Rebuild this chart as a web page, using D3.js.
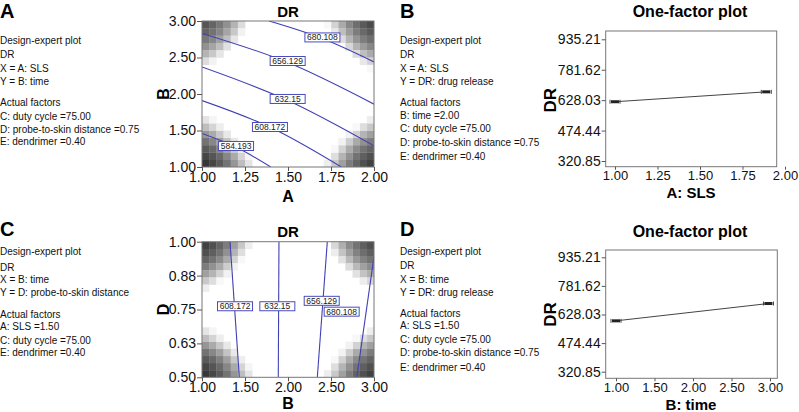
<!DOCTYPE html>
<html><head><meta charset="utf-8">
<script src="https://cdn.jsdelivr.net/npm/d3@7"></script>
<style>body{margin:0;background:#fff}svg{display:block}text{font-family:"Liberation Sans",Arial,Helvetica,sans-serif}</style>
</head><body>
<svg id="c" width="799" height="412"></svg>
<script>
// ---------------- DATA ----------------
const panelLetters = ["A", "B", "C", "D"];
const infoA = ["Design-expert plot", "DR", "X = A: SLS", "Y = B: time", "Actual factors", "C: duty cycle =75.00", "D: probe-to-skin distance =0.75", "E: dendrimer =0.40"];
const infoB = ["Design-expert plot", "DR", "X = A: SLS", "Y = DR: drug release", "Actual factors", "B: time =2.00", "C: duty cycle =75.00", "D: probe-to-skin distance =0.75", "E: dendrimer =0.40"];
const infoC = ["Design-expert plot", "DR", "X = B: time", "Y = D: probe-to-skin distance", "Actual factors", "A: SLS =1.50", "C: duty cycle =75.00", "E: dendrimer =0.40"];
const infoD = ["Design-expert plot", "DR", "X = B: time", "Y = DR: drug release", "Actual factors", "A: SLS =1.50", "C: duty cycle =75.00", "D: probe-to-skin distance =0.75", "E: dendrimer =0.40"];

// Contour plot A (x = A: SLS, y = B: time)
const contourLevelsA = ["584.193", "608.172", "632.15", "656.129", "680.108"];
const contourLinesA = [
  [[1.00, 1.46], [1.20, 1.27], [1.40, 1.00]],
  [[1.00, 1.91], [1.40, 1.54], [1.81, 1.00]],
  [[1.00, 2.37], [1.50, 1.91], [2.00, 1.29]],
  [[1.00, 2.83], [1.50, 2.43], [2.00, 1.86]],
  [[1.39, 3.00], [1.70, 2.76], [2.00, 2.44]]
];
const contourLabelPosA = [[1.198, 1.288], [1.395, 1.548], [1.498, 1.932], [1.498, 2.452], [1.700, 2.775]];
const ticksAx = [1.00, 1.25, 1.50, 1.75, 2.00];
const ticksAy = [1.00, 1.50, 2.00, 2.50, 3.00];

// Contour plot C (x = B: time, y = D: probe-to-skin distance)
const contourLevelsC = ["608.172", "632.15", "656.129", "680.108"];
const contourLinesC = [
  [[1.326, 1.00], [1.434, 0.50]],
  [[1.895, 1.00], [1.887, 0.50]],
  [[2.457, 1.00], [2.341, 0.50]],
  [[3.000, 0.945], [2.800, 0.50]]
];
const contourLabelPosC = [[1.384, 0.762], [1.876, 0.762], [2.392, 0.782], [2.624, 0.742]];
const ticksCx = [1.00, 1.50, 2.00, 2.50, 3.00];
const ticksCy = [0.50, 0.625, 0.75, 0.875, 1.00];
const ticksCyLabels = ["0.50", "0.63", "0.75", "0.88", "1.00"];

// Corner shading grey levels (row = cells from horizontal edge, col = cells from vertical edge)
const cornerShade = [
  [55, 70, 90, 115, 150, 190, 228],
  [70, 85, 105, 135, 170, 212, 245],
  [90, 105, 128, 160, 200, 238, 255],
  [115, 135, 160, 195, 232, 255, 255],
  [150, 170, 200, 232, 255, 255, 255],
  [190, 212, 238, 255, 255, 255, 255],
  [228, 245, 255, 255, 255, 255, 255]
];

// One-factor plots
const drTicks = [320.85, 474.44, 628.03, 781.62, 935.21];
const ticksBx = [1.00, 1.25, 1.50, 1.75, 2.00];
const pointsBx = [1.00, 1.89];
const pointsBy = [620, 670];
const ticksDx = [1.00, 1.50, 2.00, 2.50, 3.00];
const pointsDx = [1.00, 2.98];
const pointsDy = [594, 687];

// ---------------- DRAW ----------------
const svg = d3.select("#c");
const FONT = '"Liberation Sans",Arial,Helvetica,sans-serif';
const f2 = d3.format(".2f");

// Panel letters
const letterPos = [[0, 11], [400, 11], [0, 229], [400, 229]];
panelLetters.forEach((l, i) => {
  svg.append("text").attr("x", letterPos[i][0]).attr("y", letterPos[i][1])
    .attr("dominant-baseline", "central").attr("font-size", 20).attr("font-weight", "bold").text(l);
});

// Info text blocks
function info(lines, x, ys) {
  lines.forEach((t, i) => {
    svg.append("text").attr("x", x).attr("y", ys[i]).attr("dominant-baseline", "central")
      .attr("font-size", 10).attr("fill", "#111").text(t);
  });
}
info(infoA, 0, [40, 54.3, 68.3, 81, 102.7, 116, 129, 141.7]);
info(infoB, 400, [40, 54.3, 68.3, 81, 102.7, 115.7, 128.3, 142.7, 156.7]);
info(infoC, 0, [251, 267.7, 279.3, 292.3, 314, 326.7, 340, 352.7]);
info(infoD, 400, [251, 265, 279, 292.7, 313.3, 325.7, 339, 352.7, 367.7]);

let clipId = 0;
function contourPanel(opt) {
  const x = d3.scaleLinear().domain(opt.xd).range([opt.x0, opt.x1]);
  const y = d3.scaleLinear().domain(opt.yd).range([opt.y1, opt.y0]);
  const g = svg.append("g");
  const id = "clip" + (clipId++);
  svg.append("clipPath").attr("id", id).append("rect")
    .attr("x", opt.x0).attr("y", opt.y0).attr("width", opt.x1 - opt.x0).attr("height", opt.y1 - opt.y0);
  const sg = g.append("g").attr("clip-path", `url(#${id})`);
  // shading cells
  const cols = opt.cols, rows = opt.rows;
  const cw = (opt.xd[1] - opt.xd[0]) / cols, rh = (opt.yd[1] - opt.yd[0]) / rows;
  const corners = [[0, 0], [1, 0], [0, 1], [1, 1]]; // [right?, top?]
  corners.forEach((c, ci) => {
    const lift = opt.lift[ci];
    cornerShade.forEach((row, j) => {
      row.forEach((v, i) => {
        const gv = Math.min(255, v + lift);
        if (gv >= 252) return;
        const col = c[0] ? cols - 1 - i : i;
        const rw = c[1] ? rows - 1 - j : j;
        const xa = opt.xd[0] + col * cw, ya = opt.yd[0] + rw * rh;
        sg.append("rect").attr("x", x(xa)).attr("y", y(ya + rh))
          .attr("width", x(xa + cw) - x(xa) + 0.3).attr("height", y(ya) - y(ya + rh) + 0.3)
          .attr("fill", d3.rgb(gv, gv, gv));
      });
    });
  });
  // contour lines
  opt.lines.forEach(l => {
    sg.append("path").attr("d", d3.line().x(d => x(d[0])).y(d => y(d[1])).curve(d3.curveMonotoneX)(l.slice().sort((a, b) => a[0] - b[0])))
      .attr("fill", "none").attr("stroke", "#4040b4").attr("stroke-width", 1.1);
  });
  // labels
  opt.labels.forEach((t, i) => {
    const p = opt.labelPos[i];
    const w = 35, h = 9;
    sg.append("rect").attr("x", x(p[0]) - w / 2).attr("y", y(p[1]) - h / 2).attr("width", w).attr("height", h)
      .attr("fill", "#fff").attr("stroke", "#4a4ac0").attr("stroke-width", 1);
    sg.append("text").attr("x", x(p[0])).attr("y", y(p[1])).attr("text-anchor", "middle")
      .attr("dominant-baseline", "central").attr("font-size", 8.5).attr("fill", "#222").text(t);
  });
  // frame
  g.append("rect").attr("x", opt.x0).attr("y", opt.y0).attr("width", opt.x1 - opt.x0).attr("height", opt.y1 - opt.y0)
    .attr("fill", "none").attr("stroke", "#777").attr("stroke-width", 1);
  // axes
  const ax = g.append("g").attr("transform", `translate(0,${opt.y1})`)
    .call(d3.axisBottom(x).tickValues(opt.tx).tickFormat(f2).tickSize(4).tickPadding(1));
  const ay = g.append("g").attr("transform", `translate(${opt.x0},0)`)
    .call(d3.axisLeft(y).tickValues(opt.ty).tickFormat((d, i) => opt.tyl ? opt.tyl[i] : f2(d)).tickSize(5).tickPadding(1));
  [ax, ay].forEach(a => {
    a.select(".domain").remove();
    a.selectAll("line").attr("stroke", "#555");
    a.selectAll("text").attr("font-size", 14).attr("font-family", FONT).attr("fill", "#111");
  });
  // titles
  g.append("text").attr("x", (opt.x0 + opt.x1) / 2).attr("y", opt.y0 - 10).attr("text-anchor", "middle")
    .attr("dominant-baseline", "central").attr("font-size", 15).attr("font-weight", "bold").text("DR");
  g.append("text").attr("x", (opt.x0 + opt.x1) / 2).attr("y", opt.y1 + opt.xlo).attr("text-anchor", "middle")
    .attr("dominant-baseline", "central").attr("font-size", 16).attr("font-weight", "bold").text(opt.xl);
  g.append("text").attr("transform", `translate(${163},${(opt.y0 + opt.y1) / 2}) rotate(-90)`).attr("text-anchor", "middle")
    .attr("dominant-baseline", "central").attr("font-size", 16).attr("font-weight", "bold").text(opt.yl);
}

contourPanel({
  xd: [1, 2], yd: [1, 3], x0: 202, x1: 374, y0: 21, y1: 167, cols: 24, rows: 20,
  lift: [0, 10, 30, 20], // bl, br, tl, tr
  lines: contourLinesA, labels: contourLevelsA, labelPos: contourLabelPosA,
  tx: ticksAx, ty: ticksAy, xl: "A", yl: "B", xlo: 29
});
contourPanel({
  xd: [1, 3], yd: [0.5, 1], x0: 202, x1: 374, y0: 241.7, y1: 377.3, cols: 24, rows: 19,
  lift: [0, 10, 10, 25],
  lines: contourLinesC, labels: contourLevelsC, labelPos: contourLabelPosC,
  tx: ticksCx, ty: ticksCy, tyl: ticksCyLabels, xl: "B", yl: "D", xlo: 26
});

function oneFactor(opt) {
  const x = d3.scaleLinear().domain(opt.xd).range(opt.xr);
  const y = d3.scaleLinear().domain([320.85, 935.21]).range(opt.yr);
  const g = svg.append("g");
  g.append("rect").attr("x", opt.bx0).attr("y", opt.by0).attr("width", opt.bx1 - opt.bx0).attr("height", opt.by1 - opt.by0)
    .attr("fill", "none").attr("stroke", "#777").attr("stroke-width", 1);
  const ay = g.append("g").attr("transform", `translate(${opt.bx0},0)`)
    .call(d3.axisLeft(y).tickValues(drTicks).tickFormat(f2).tickSize(4).tickPadding(1));
  const ax = g.append("g").attr("transform", `translate(0,${opt.by1})`)
    .call(d3.axisBottom(x).tickValues(opt.tx).tickFormat(f2).tickSize(3).tickPadding(1));
  ay.selectAll("text").attr("font-size", 14);
  ax.selectAll("text").attr("font-size", 13);
  [ax, ay].forEach(a => {
    a.select(".domain").remove();
    a.selectAll("line").attr("stroke", "#555");
    a.selectAll("text").attr("font-family", FONT).attr("fill", "#111");
  });
  const pts = opt.px.map((v, i) => [v, opt.py[i]]);
  g.append("path").attr("d", d3.line().x(d => x(d[0])).y(d => y(d[1]))(pts))
    .attr("fill", "none").attr("stroke", "#444").attr("stroke-width", 1);
  pts.forEach(p => {
    const cx = x(p[0]), cy = y(p[1]);
    g.append("rect").attr("x", cx - 4).attr("y", cy - 1.5).attr("width", 8).attr("height", 3).attr("fill", "#222");
    g.append("line").attr("x1", cx - 5).attr("x2", cx - 5).attr("y1", cy - 2).attr("y2", cy + 2).attr("stroke", "#444");
    g.append("line").attr("x1", cx + 5).attr("x2", cx + 5).attr("y1", cy - 2).attr("y2", cy + 2).attr("stroke", "#444");
  });
  g.append("text").attr("x", 690).attr("y", opt.ty).attr("text-anchor", "middle").attr("dominant-baseline", "central")
    .attr("font-size", 16).attr("font-weight", "bold").text("One-factor plot");
  g.append("text").attr("x", 691).attr("y", opt.xly).attr("text-anchor", "middle").attr("dominant-baseline", "central")
    .attr("font-size", 15).attr("font-weight", "bold").text(opt.xl);
  g.append("text").attr("transform", `translate(550,${y(628.03)}) rotate(-90)`).attr("text-anchor", "middle")
    .attr("dominant-baseline", "central").attr("font-size", 17).attr("font-weight", "bold").text("DR");
}

oneFactor({
  xd: [1, 2], xr: [615, 785], yr: [161, 39.3], bx0: 605.7, bx1: 776.7, by0: 31, by1: 166.7,
  tx: ticksBx, px: pointsBx, py: pointsBy, ty: 11.7, xl: "A: SLS", xly: 192
});
oneFactor({
  xd: [1, 3], xr: [616, 770], yr: [371.7, 257.3], bx0: 605.7, bx1: 777.3, by0: 250, by1: 378.3,
  tx: ticksDx, px: pointsDx, py: pointsDy, ty: 231.7, xl: "B: time", xly: 404
});
</script>
</body></html>
